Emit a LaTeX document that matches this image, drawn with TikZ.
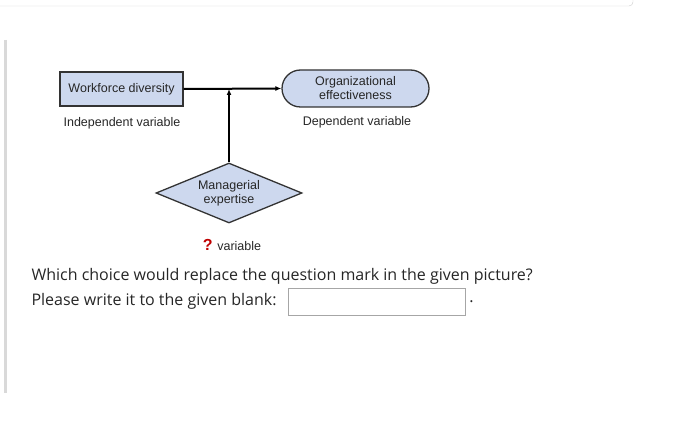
\documentclass[tikz,border=0pt]{standalone}
\usepackage{fontspec}
\setmainfont{Liberation Sans}
\newfontfamily\osans{Open Sans}
\usetikzlibrary{shapes.geometric,shapes.misc,arrows.meta}
\definecolor{nodefill}{HTML}{CDD8EE}
\begin{document}
\begin{tikzpicture}[x=1pt,y=-1pt,
  lbl/.style={font=\fontsize{12.5}{14}\selectfont, text=black!85},
  fillc/.style={fill=nodefill, draw=black!80, line width=1.3pt},
  conn/.style={line width=2pt},
  body/.style={font=\osans\fontsize{16}{18}\selectfont, text=black!85}]
\useasboundingbox (0,0) rectangle (700,430);
\draw[black!20, rounded corners=4pt] (-5,-20) rectangle (633,6);
\draw[black!15, line width=3pt] (5,40) -- (5,393);
\node[fillc, rectangle, minimum width=123, minimum height=34, inner sep=1pt, lbl] (wd) at (121.5,89) {Workforce diversity};
\node[fillc, rounded rectangle, minimum width=149, minimum height=37, inner sep=1pt, lbl, align=center] (oe) at (355.5,88.5) {Organizational\\effectiveness};
\node[fillc, diamond, aspect=2.4, minimum width=146, minimum height=60, inner sep=0pt, lbl, align=center] (me) at (229,193) {Managerial\\expertise};
\node[lbl] (iv) at (122,123) {Independent variable};
\node[lbl] (dv) at (357,122) {Dependent variable};
\node[lbl] (qv) at (232,245) {\textcolor{red!75!black}{\fontsize{16}{16}\selectfont\bfseries ?} variable};
\coordinate (j) at (229,89);
\draw[conn,-{Latex[length=6pt,width=5pt]}] (wd.east) -- (oe.west);
\draw[conn,-{Latex[length=6pt,width=5pt]}] (me.north) -- (j);
\node[body, anchor=west] (t1) at (28,276) {Which choice would replace the question mark in the given picture?};
\node[body, anchor=west] (t2) at (28,301) {Please write it to the given blank:};
\node[draw=black!35, minimum width=177, minimum height=27, inner sep=0pt] (blank) at (376.5,301.5) {};
\node[body, anchor=west, inner sep=0pt] (dot) at ([xshift=4pt]blank.east) {.};
\end{tikzpicture}
\end{document}
